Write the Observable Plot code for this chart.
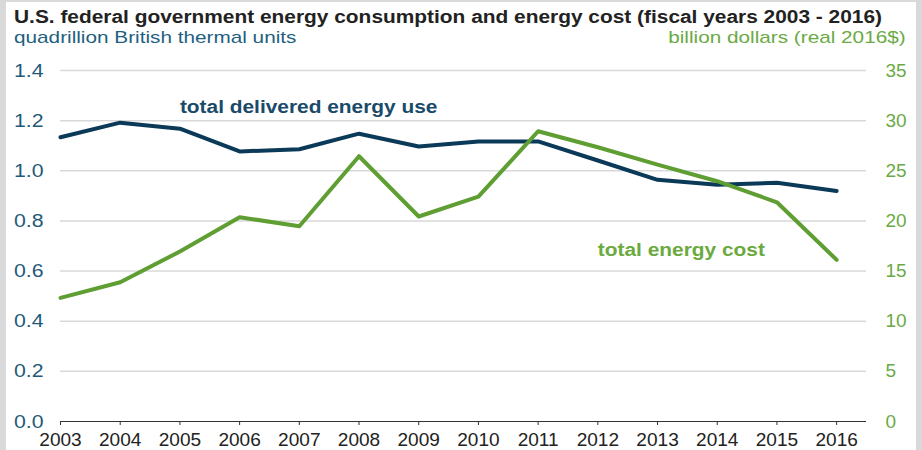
<!DOCTYPE html>
<html>
<head>
<meta charset="utf-8">
<script src="https://cdn.jsdelivr.net/npm/d3@7"></script>
<script src="https://cdn.jsdelivr.net/npm/@observablehq/plot@0.6"></script>
<style>
  body { margin: 0; background: #fff; font-family: "Liberation Sans", Arial, sans-serif; }
  #frame { position: relative; width: 922px; height: 450px; background: #d9d9d9; overflow: hidden; }
  #panel { position: absolute; left: 6px; top: 2px; width: 910px; height: 460px; background: #fff; }
  .t { position: absolute; white-space: nowrap; line-height: 20px; }
  #title { left: 14px; top: 7px; font-size: 18px; font-weight: bold; color: #222; transform: scaleX(1.16); transform-origin: 0 0; }
  #subL { left: 14px; top: 28px; font-size: 17px; color: #1f5f80; transform: scaleX(1.22); transform-origin: 0 0; }
  #subR { right: 16px; top: 28px; font-size: 17px; color: #6aaa45; transform: scaleX(1.22); transform-origin: 100% 0; }
  #chart { position: absolute; left: 0; top: 55px; }
</style>
</head>
<body>
<div id="frame">
  <div id="panel"></div>
  <div class="t" id="title">U.S. federal government energy consumption and energy cost (fiscal years 2003 - 2016)</div>
  <div class="t" id="subL">quadrillion British thermal units</div>
  <div class="t" id="subR">billion dollars (real 2016$)</div>
  <div id="chart"></div>
</div>
<script>
const years = [2003, 2004, 2005, 2006, 2007, 2008, 2009, 2010, 2011, 2012, 2013, 2014, 2015, 2016];
const energyUse = [1.134, 1.192, 1.168, 1.077, 1.086, 1.148, 1.097, 1.117, 1.117, 1.041, 0.964, 0.944, 0.952, 0.919];
const energyCost = [12.33, 13.89, 16.95, 20.37, 19.47, 26.45, 20.44, 22.43, 28.94, 27.35, 25.62, 23.96, 21.86, 16.12];
const leftTicks = [0, 0.2, 0.4, 0.6, 0.8, 1.0, 1.2, 1.4];
const rightTicks = [0, 5, 10, 15, 20, 25, 30, 35];
const labels = [
  {text: "total delivered energy use", year: 2005, use: 1.252, series: "use"},
  {text: "total energy cost", year: 2012, cost: 17.05, series: "cost"}
];

const ratio = 35 / 1.4;
const navy = "#0b3a58";
const green = "#5e9e32";

const useData = years.map((y, i) => ({year: y, v: energyUse[i]}));
const costData = years.map((y, i) => ({year: y, v: energyCost[i] / ratio}));

const chart = Plot.plot({
  width: 922,
  height: 395,
  marginLeft: 60,
  marginRight: 56,
  marginTop: 15,
  marginBottom: 29,
  style: {fontFamily: "'Liberation Sans', Arial, sans-serif", background: "transparent"},
  x: {domain: [2003, 2016.5], axis: null},
  y: {domain: [0, 1.4], axis: null},
  marks: [
    Plot.gridY(leftTicks.filter(d => d > 0), {stroke: "#d9d9d9", strokeOpacity: 1, strokeWidth: 1.5}),
    Plot.ruleY([0], {stroke: "#333", strokeWidth: 1.2}),
    Plot.axisX(years, {tickFormat: "d", tickSize: 4, tickPadding: 8, fontSize: 18, stroke: "#333", fill: "#222", label: null}),
    Plot.axisY(leftTicks, {anchor: "left", tickSize: 0, tickPadding: 17, tickFormat: d3.format(".1f"), fontSize: 19, fill: "#1f5a7a", label: null}),
    Plot.axisY(rightTicks.map(d => d / ratio), {anchor: "right", tickSize: 0, tickPadding: 19, tickFormat: d => String(Math.round(d * ratio)), fontSize: 19, fill: "#6aaa45", label: null}),
    Plot.line(useData, {x: "year", y: "v", stroke: navy, strokeWidth: 4}),
    Plot.line(costData, {x: "year", y: "v", stroke: green, strokeWidth: 4}),
    Plot.text(labels.filter(d => d.series === "use"), {x: "year", y: "use", text: "text", textAnchor: "start", fontSize: 18, fontWeight: "bold", fill: "#1a4a6a"}),
    Plot.text(labels.filter(d => d.series === "cost"), {x: "year", y: d => d.cost / ratio, text: "text", textAnchor: "start", fontSize: 18, fontWeight: "bold", fill: "#6aaa3e"})
  ]
});
document.getElementById("chart").appendChild(chart);

// Horizontal text stretch to mimic the reference's wider glyphs
function stretchGroup(g, sx) {
  if (!g) return;
  g.querySelectorAll("text").forEach(t => {
    const x = +(t.getAttribute("x") || 0);
    const old = t.getAttribute("transform") || "";
    t.setAttribute("transform", `${old} translate(${x},0) scale(${sx},1) translate(${-x},0)`);
  });
}
const yLabelGroups = chart.querySelectorAll('g[aria-label="y-axis tick label"]');
stretchGroup(yLabelGroups[0], 1.12);
stretchGroup(chart.querySelector('g[aria-label="x-axis tick label"]'), 1.06);
chart.querySelectorAll('g[aria-label="text"]').forEach(g => stretchGroup(g, 1.16));
</script>
</body>
</html>
